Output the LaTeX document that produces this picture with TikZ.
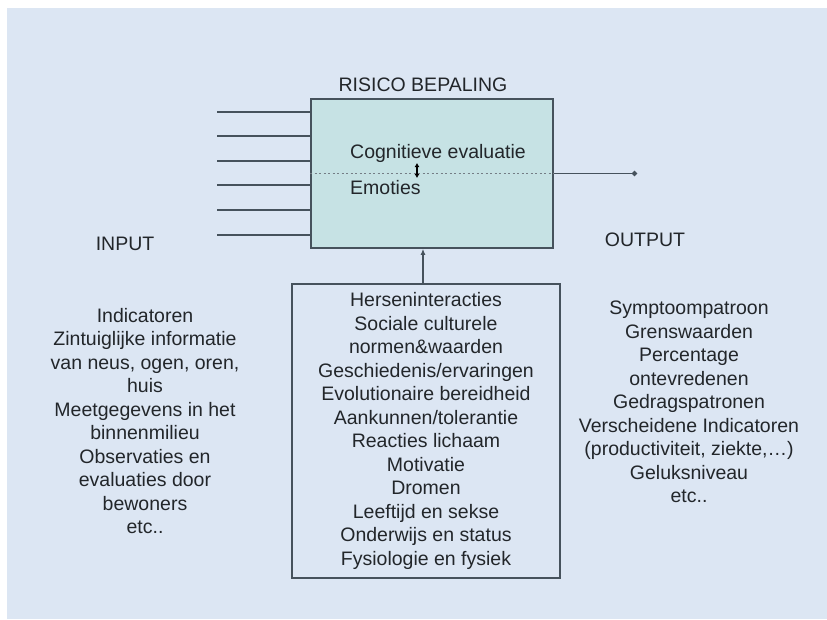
\documentclass[tikz,border=0pt]{standalone}
\usepackage{fontspec}
\setmainfont{Liberation Sans}
\usepackage{tikz}
\usetikzlibrary{arrows.meta, calc}

\definecolor{achtergrond}{HTML}{DCE6F3}
\definecolor{kadervulling}{HTML}{C6E2E4}
\definecolor{lijnkleur}{HTML}{46525C}
\definecolor{tekstkleur}{HTML}{22262A}

\tikzset{
  lijn/.style={draw=lijnkleur, line width=1.7pt},
  kader/.style={lijn, inner sep=0pt},
  lijst/.style={align=center, inner sep=0pt, text=tekstkleur},
}

\begin{document}
\begin{tikzpicture}[x=1pt, y=-1pt, font=\fontsize{19.5}{23.5}\selectfont, text=tekstkleur]

  \useasboundingbox (0,0) rectangle (827,619);
  \fill[achtergrond] (7,8) rectangle (827,619);

  \node[kader, fill=kadervulling, minimum width=242pt, minimum height=149pt] (risico) at (432,173.5) {};
  \node[kader, minimum width=268pt, minimum height=294pt] (factoren) at (426,431) {};

  \node[lijst] (titel) at (423,85) {RISICO BEPALING};

  \coordinate (uit) at (637,173.5);
  \coordinate (pijl) at (423,0);
  \coordinate (dubbel) at (417,0);

  % ingangen
  \foreach \y [count=\i] in {112,136,161,185,210,235} {
    \coordinate (in\i) at (217,\y);
    \draw[lijn] (in\i) -- (in\i -| risico.west);
  }

  \draw[lijnkleur!75, line width=1.6pt, dash pattern=on 2pt off 2.5pt] (risico.west) -- (risico.east);
  \draw[lijnkleur, line width=1.3pt, -{Circle[length=5pt]}] (risico.east) -- (uit);

  \node[lijst, anchor=west] (cognitief) at (350,153) {Cognitieve evaluatie};
  \node[lijst, anchor=west] (emoties) at (350,188) {Emoties};
  \draw[black, line width=1.4pt, {Latex[length=4pt,width=5pt]}-{Latex[length=4pt,width=5pt]}]
    (dubbel |- 0,163) -- (dubbel |- 0,178);

  \draw[lijnkleur, line width=1.3pt, -{Latex[length=6pt,width=5pt]}] (pijl |- factoren.north) -- (pijl |- risico.south);

  \node[lijst] (factorlijst) at (factoren) {Herseninteracties\\Sociale culturele\\normen\&waarden\\Geschiedenis/ervaringen\\Evolutionaire bereidheid\\Aankunnen/tolerantie\\Reacties lichaam\\Motivatie\\Dromen\\Leeftijd en sekse\\Onderwijs en status\\Fysiologie en fysiek};

  \node[lijst] (input) at (125,244) {INPUT};
  \node[lijst] (inputlijst) at (145,421) {Indicatoren\\Zintuiglijke informatie\\van neus, ogen, oren,\\huis\\Meetgegevens in het\\binnenmilieu\\Observaties en\\evaluaties door\\bewoners\\etc..};

  \node[lijst] (output) at (645,240) {OUTPUT};
  \node[lijst] (outputlijst) at (689,402) {Symptoompatroon\\Grenswaarden\\Percentage\\ontevredenen\\Gedragspatronen\\Verscheidene Indicatoren\\(productiviteit, ziekte,…)\\Geluksniveau\\etc..};

\end{tikzpicture}
\end{document}
